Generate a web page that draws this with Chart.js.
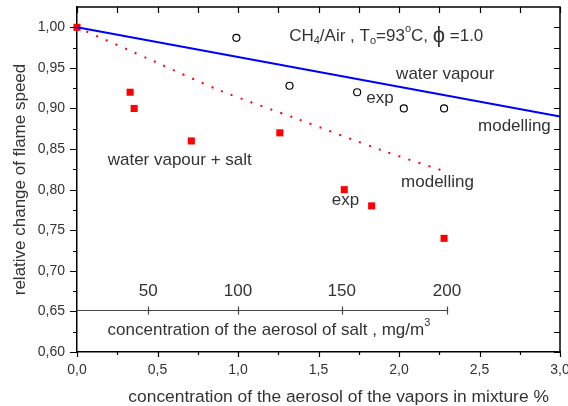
<!DOCTYPE html>
<html>
<head>
<meta charset="utf-8">
<script src="https://cdn.jsdelivr.net/npm/chart.js@4.4.1/dist/chart.umd.min.js"></script>
<style>
  html, body { margin: 0; padding: 0; background: #fff; }
  #wrap { width: 568px; height: 406px; }
</style>
</head>
<body>
<div id="wrap"><canvas id="chart"></canvas></div>
<script>
// --- data ---
const vapourExpX = [0.99, 1.32, 1.74, 2.03, 2.28];
const vapourExpY = [0.987, 0.928, 0.920, 0.900, 0.900];

const saltExpX = [0.00, 0.33, 0.355, 0.71, 1.26, 1.66, 1.83, 2.28];
const saltExpY = [1.00, 0.92, 0.90, 0.86, 0.87, 0.80, 0.78, 0.74];

const vapourModelX = [0, 3.0];
const vapourModelY = [1.0, 0.89];

const saltModelX = [0, 0.48, 0.89, 1.37, 1.90, 2.27];
const saltModelY = [1.0, 0.958, 0.922, 0.887, 0.848, 0.8235];

// secondary (salt) axis drawn inside the plot
const saltAxisY = 0.6513;
const saltAxisEnd = 2.30;
const saltTickLabels = ['50', '100', '150', '200'];
const saltTickPos = [0.442, 1.0, 1.644, 2.298];

const xTickVals = [0, 0.5, 1.0, 1.5, 2.0, 2.5, 3.0];
const yTickVals = [0.60, 0.65, 0.70, 0.75, 0.80, 0.85, 0.90, 0.95, 1.00];

const FONT = "'Liberation Sans', Arial, sans-serif";
const TXT = '#333';
const X_TITLE = 'concentration of the aerosol of the vapors in mixture %';

const pts = (xs, ys) => xs.map((x, i) => ({ x: x, y: ys[i] }));

// plain text labels placed in data coordinates
const notes = [
    { text: 'water vapour', x: 1.982, y: 0.9416 },
    { text: 'exp', x: 1.797, y: 0.9128 },
    { text: 'modelling', x: 2.491, y: 0.8778 },
    { text: 'water vapour + salt', x: 0.1905, y: 0.8367 },
    { text: 'modelling', x: 2.013, y: 0.8086 },
    { text: 'exp', x: 1.582, y: 0.7864 }
];

// draws a run of [text, size, dy] pieces from left to right
function drawRun(ctx, parts, x, y) {
    let cx = x;
    parts.forEach(([t, size, dy]) => {
        ctx.font = size + 'px ' + FONT;
        ctx.fillText(t, cx, y + dy);
        cx += ctx.measureText(t).width;
    });
}

const decorations = {
    id: 'decorations',
    afterDraw(chart) {
        const ctx = chart.ctx;
        const xs = chart.scales.x, ys = chart.scales.y;
        const a = chart.chartArea;
        ctx.save();
        ctx.strokeStyle = '#000';
        ctx.lineWidth = 1.5;

        // frame top + right
        ctx.beginPath();
        ctx.moveTo(a.left, a.top); ctx.lineTo(a.right, a.top); ctx.lineTo(a.right, a.bottom);
        ctx.stroke();

        ctx.lineWidth = 1.2;
        ctx.beginPath();
        // x ticks: bottom outward (major/minor), top inward
        for (let i = 0; i <= 12; i++) {
            const v = i * 0.25;
            const px = Math.round(xs.getPixelForValue(v)) + 0.5;
            const len = i % 2 === 0 ? 5 : 3;
            ctx.moveTo(px, a.bottom); ctx.lineTo(px, a.bottom + len);
            ctx.moveTo(px, a.top); ctx.lineTo(px, a.top + 6);
        }
        // y ticks: left outward, right inward
        for (let i = 0; i <= 16; i++) {
            const v = 0.6 + i * 0.025;
            const py = Math.round(ys.getPixelForValue(v)) + 0.5;
            const len = i % 2 === 0 ? 7 : 4;
            ctx.moveTo(a.left, py); ctx.lineTo(a.left - len, py);
            ctx.moveTo(a.right, py); ctx.lineTo(a.right - 6, py);
        }
        ctx.stroke();

        // salt axis
        ctx.strokeStyle = '#444';
        ctx.lineWidth = 1.2;
        const sy = Math.round(ys.getPixelForValue(saltAxisY)) + 0.5;
        ctx.beginPath();
        ctx.moveTo(a.left, sy); ctx.lineTo(xs.getPixelForValue(saltAxisEnd), sy);
        saltTickPos.forEach(v => {
            const px = Math.round(xs.getPixelForValue(v)) + 0.5;
            ctx.moveTo(px, sy - 4); ctx.lineTo(px, sy + 4);
        });
        ctx.stroke();

        ctx.fillStyle = TXT;
        ctx.textBaseline = 'middle';
        ctx.textAlign = 'center';
        ctx.font = '17px ' + FONT;
        saltTickPos.forEach((v, i) => {
            ctx.fillText(saltTickLabels[i], xs.getPixelForValue(v), ys.getPixelForValue(0.675));
        });

        ctx.textAlign = 'left';
        drawRun(ctx, [['concentration of the aerosol of salt , mg/m', 17, 0], ['3', 11, -7]],
            xs.getPixelForValue(0.19), ys.getPixelForValue(0.6268));

        notes.forEach(n => {
            ctx.font = '17px ' + FONT;
            ctx.fillText(n.text, xs.getPixelForValue(n.x), ys.getPixelForValue(n.y));
        });

        drawRun(ctx, [
            ['CH', 17, 0], ['4', 11, 5], ['/Air , T', 17, 0], ['o', 11, 5],
            ['=93', 17, 0], ['o', 11, -7], ['C, ', 17, 0], ['\u03D5', 22, 0], [' =1.0', 17, 0]
        ], xs.getPixelForValue(1.318), ys.getPixelForValue(0.989));

        // bottom axis title (sits off-centre in the original)
        ctx.font = '17.4px ' + FONT;
        ctx.fillText(X_TITLE, xs.getPixelForValue(0.319), a.bottom + 45);

        ctx.restore();
    }
};

new Chart(document.getElementById('chart'), {
    type: 'scatter',
    data: {
        datasets: [
            {
                label: 'water vapour modelling',
                type: 'line',
                data: pts(vapourModelX, vapourModelY),
                borderColor: '#0000ff',
                borderWidth: 2,
                pointRadius: 0,
                fill: false
            },
            {
                label: 'water vapour + salt modelling',
                type: 'line',
                data: pts(saltModelX, saltModelY),
                borderColor: '#ff0000',
                borderWidth: 2,
                borderDash: [2, 8.5],
                pointRadius: 0,
                tension: 0.3,
                fill: false
            },
            {
                label: 'water vapour exp',
                data: pts(vapourExpX, vapourExpY),
                pointStyle: 'circle',
                pointRadius: 3.5,
                pointBorderWidth: 1.2,
                borderColor: '#000',
                backgroundColor: '#fff'
            },
            {
                label: 'water vapour + salt exp',
                data: pts(saltExpX, saltExpY),
                pointStyle: 'rect',
                pointRadius: 5,
                pointBorderWidth: 0,
                borderColor: '#ff0000',
                backgroundColor: '#ff0000'
            }
        ]
    },
    options: {
        responsive: true,
        maintainAspectRatio: false,
        animation: false,
        clip: false,
        layout: { padding: { top: 7, right: 8, left: 0, bottom: 0 } },
        plugins: { legend: { display: false }, tooltip: { enabled: false } },
        scales: {
            x: {
                type: 'linear',
                min: 0, max: 3.0,
                afterBuildTicks: s => { s.ticks = xTickVals.map(v => ({ value: v })); },
                afterFit: s => { s.height = 54; s.paddingLeft = 0; s.paddingRight = 0; },
                grid: { display: false, drawTicks: false },
                border: { display: true, color: '#000', width: 1.5 },
                ticks: {
                    padding: 10,
                    color: TXT,
                    font: { family: FONT, size: 14 },
                    maxRotation: 0,
                    callback: v => v.toFixed(1).replace('.', ',')
                },
                title: { display: false }
            },
            y: {
                type: 'linear',
                min: 0.6, max: 1.025,
                afterBuildTicks: s => { s.ticks = yTickVals.map(v => ({ value: v })); },
                afterFit: s => { s.width = 77; s.paddingTop = 0; s.paddingBottom = 0; },
                grid: { display: false, drawTicks: false },
                border: { display: true, color: '#000', width: 1.5 },
                ticks: {
                    padding: 12,
                    color: TXT,
                    font: { family: FONT, size: 14 },
                    callback: v => v.toFixed(2).replace('.', ',')
                },
                title: {
                    display: true,
                    text: 'relative change of flame speed',
                    color: TXT,
                    font: { family: FONT, size: 17 },
                    padding: { top: 10, bottom: 0 }
                }
            }
        }
    },
    plugins: [decorations]
});
</script>
</body>
</html>
